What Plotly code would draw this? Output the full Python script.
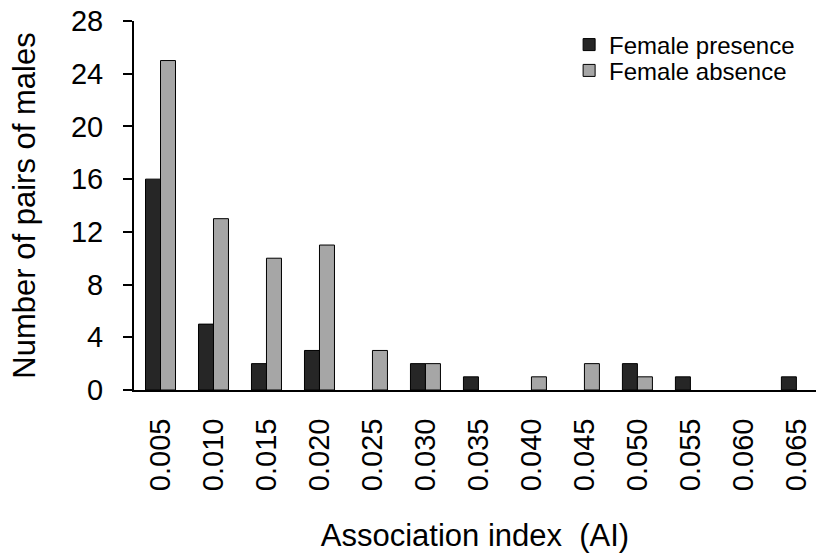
import plotly.graph_objects as go

categories = ["0.005", "0.010", "0.015", "0.020", "0.025", "0.030", "0.035",
              "0.040", "0.045", "0.050", "0.055", "0.060", "0.065"]
female_presence = [16, 5, 2, 3, 0, 2, 1, 0, 0, 2, 1, 0, 1]
female_absence = [25, 13, 10, 11, 3, 2, 0, 1, 2, 1, 0, 0, 0]

FONT = "Liberation Sans, Arial, sans-serif"


def outline(values):
    # no outline on empty bars, so zero counts leave no sliver on the axis
    return [0 if v == 0 else 1 for v in values]


fig = go.Figure()
fig.add_trace(go.Bar(
    x=categories, y=female_presence, name="Female presence",
    marker=dict(color="#262626", line=dict(color="black", width=outline(female_presence))),
    legend="legend", showlegend=True,
))
fig.add_trace(go.Bar(
    x=categories, y=female_absence, name="Female absence",
    marker=dict(color="#a6a6a6", line=dict(color="black", width=outline(female_absence))),
    legend="legend2", showlegend=True,
))

legend_common = dict(
    xanchor="left", yanchor="middle", visible=True,
    font=dict(size=24, family=FONT), bgcolor="rgba(0,0,0,0)",
    itemwidth=30,
)

fig.update_layout(
    width=816, height=557,
    margin=dict(l=134, r=0, t=21, b=167),
    paper_bgcolor="white", plot_bgcolor="white",
    showlegend=True,
    barmode="group", bargap=0.434, bargroupgap=0,
    font=dict(family=FONT, color="black", size=29),
    legend=dict(x=0.638, y=0.935, **legend_common),
    legend2=dict(x=0.638, y=0.865, **legend_common),
    xaxis=dict(
        type="category", range=[-0.5, 12.37],
        showline=True, linecolor="black", linewidth=2,
        ticks="", tickangle=-90, showgrid=False,
        tickfont=dict(size=29), ticklabelstandoff=15,
        title=dict(text="Association index  (AI)", font=dict(size=31), standoff=34),
    ),
    yaxis=dict(
        range=[0, 28], tickvals=[0, 4, 8, 12, 16, 20, 24, 28],
        showline=True, linecolor="black", linewidth=2,
        ticks="outside", ticklen=9, tickwidth=1.5, tickcolor="black",
        showgrid=False, zeroline=False,
        tickfont=dict(size=29), ticklabelstandoff=14,
        title=dict(text="Number of pairs of males", font=dict(size=31), standoff=26),
    ),
)

fig.write_html("out.html")
